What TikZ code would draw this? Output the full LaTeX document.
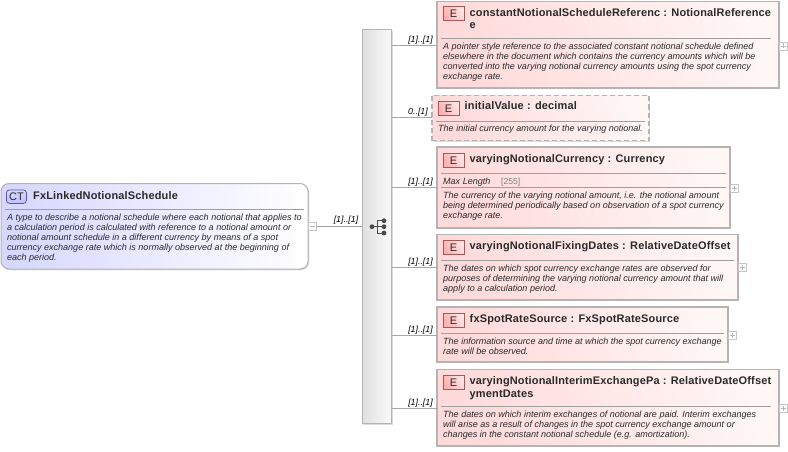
\documentclass[tikz,border=0pt]{standalone}
\usepackage{fontspec}
\setmainfont{Liberation Sans}
\newfontfamily\titlefont[LetterSpace=1.4]{Liberation Sans}
\usetikzlibrary{shadows,calc}
\definecolor{edge}{HTML}{B4B4B4}
\definecolor{ink}{HTML}{2A2A2A}
\definecolor{rosy}{HTML}{FFDADA}
\definecolor{pale}{HTML}{FFF6F6}
\definecolor{lav}{HTML}{D6D6FF}
\tikzset{
  x=1pt,y=-1pt,
  shadowed/.style={drop shadow={shadow xshift=1.3pt,shadow yshift=-1.3pt,opacity=.2,fill=black!70}},
  ebox/.style={draw=edge,line width=1.1pt,left color=rosy,right color=pale,shading angle=105,shadowed,anchor=north west,inner sep=0,outer sep=0},
  ctbox/.style={draw=edge,line width=1pt,rounded corners=8pt,left color=lav,right color=white,shadowed,anchor=north west,inner sep=0,outer sep=0},
  badge/.style={draw=red!30!gray,line width=.7pt,left color=red!32!white,right color=white!90!red,shading angle=120,minimum width=21.5pt,minimum height=14pt,inner sep=0,anchor=north west,font=\fontsize{11}{11}\selectfont,text=ink},
  ctbadge/.style={draw=blue!30!gray,line width=.8pt,rounded corners=3pt,top color=white!85!blue,bottom color=blue!25!white,minimum width=20pt,minimum height=13.5pt,inner sep=0,anchor=north west,font=\fontsize{11}{11}\selectfont,text=ink},
  ttl/.style={anchor=base west,inner sep=0,text=ink,font=\titlefont\bfseries\fontsize{11}{14}\selectfont},
  desc/.style={anchor=north west,inner sep=0,text=ink,align=left,font=\itshape\fontsize{9.03}{10.05}\selectfont},
  card/.style={anchor=mid,inner sep=0,text=black,font=\itshape\fontsize{8.8}{10}\selectfont},
  sep/.style={draw=gray!75,line width=.7pt},
  wire/.style={draw=gray!70,line width=.7pt},
  toggle/.style={draw=gray!45,fill=white,line width=.6pt,minimum width=8pt,minimum height=8pt,inner sep=0,anchor=west,outer sep=0},
  glyph/.style={draw=gray!55,line width=.6pt},
  dot/.style={fill=ink!85},
}
% #1 extra style, #2 name, #3 x, #4 y, #5 w, #6 h
\newcommand{\ebx}[6][]{\node[ebox,minimum width=#5pt,minimum height=#6pt,#1] (#2) at (#3,#4) {};}
\newcommand{\sepline}[3]{\draw[sep] (#1,#3) -- (#2,#3);}
\newcommand{\tgl}[3]{\node[toggle] (#1) at (#2,#3) {};
  \draw[glyph] ($(#1.center)+(-2.5,0)$) -- ($(#1.center)+(2.5,0)$);
  \draw[glyph] ($(#1.center)+(0,-2.5)$) -- ($(#1.center)+(0,2.5)$);}
\begin{document}
\begin{tikzpicture}
\useasboundingbox (0,0) rectangle (788,452);
% sequence bar
\node[anchor=north west,draw=edge,line width=1pt,left color=gray!25,right color=white!96!gray,shadowed,minimum width=29.5pt,minimum height=394pt,inner sep=0,outer sep=0] (seq) at (362,29.5) {};
% CT
\node[ctbox,minimum width=307pt,minimum height=85.5pt] (ct) at (1,183.5) {};
\node[ctbadge] (ctb) at (6,189.5) {CT};
\node[ttl] (ctt) at (33,199) {FxLinkedNotionalSchedule};
\sepline{5}{304}{209.5}
\node[desc] (ctd) at (6.8,213.3) {A type to describe a notional schedule where each notional that applies to\\a calculation period is calculated with reference to a notional amount or\\notional amount schedule in a different currency by means of a spot\\currency exchange rate which is normally observed at the beginning of\\each period.};
% elements
\ebx{e1}{437}{1.5}{342}{86.5}
\node[badge] (b1) at (442.5,6.5) {E};
\node[ttl] (t1) at (469.5,16.5) {constantNotionalScheduleReferenc : NotionalReference};
\node[ttl] (t1b) at (469.5,29) {e};
\sepline{441}{771}{38.5}
\node[desc] (d1) at (443,42.3) {A pointer style reference to the associated constant notional schedule defined\\elsewhere in the document which contains the currency amounts which will be\\converted into the varying notional currency amounts using the spot currency\\exchange rate.};

\ebx[dashed,dash pattern=on 5pt off 3pt]{e2}{432}{95.5}{217}{45}
\node[badge] (b2) at (437.5,101) {E};
\node[ttl] (t2) at (464.5,110) {initialValue : decimal};
\sepline{436}{645}{121.5}
\node[desc] (d2) at (438,125) {The initial currency amount for the varying notional.};

\ebx{e3}{437}{147}{293}{81}
\node[badge] (b3) at (442.5,153) {E};
\node[ttl] (t3) at (469.5,162) {varyingNotionalCurrency : Currency};
\sepline{441}{726}{173.5}
\node[desc,anchor=base west] (k3) at (443,184) {Max Length};
\node[desc,anchor=base west,text=gray,font=\fontsize{8.6}{10}\selectfont] (v3) at (501,184) {[255]};
\sepline{441}{726}{187.5}
\node[desc] (d3) at (443,191.3) {The currency of the varying notional amount, i.e. the notional amount\\being determined periodically based on observation of a spot currency\\exchange rate.};

\ebx{e4}{437}{234.5}{301}{65.5}
\node[badge] (b4) at (442.5,240) {E};
\node[ttl] (t4) at (469.5,249.5) {varyingNotionalFixingDates : RelativeDateOffset};
\sepline{441}{734}{260.5}
\node[desc] (d4) at (443,264.3) {The dates on which spot currency exchange rates are observed for\\purposes of determining the varying notional currency amount that will\\apply to a calculation period.};

\ebx{e5}{437}{307}{291}{55}
\node[badge] (b5) at (442.5,313) {E};
\node[ttl] (t5) at (469.5,322) {fxSpotRateSource : FxSpotRateSource};
\sepline{441}{724}{333.5}
\node[desc] (d5) at (443,337.3) {The information source and time at which the spot currency exchange\\rate will be observed.};

\ebx{e6}{437}{369.5}{342}{76.5}
\node[badge] (b6) at (442.5,375) {E};
\node[ttl] (t6) at (469.5,384.5) {varyingNotionalInterimExchangePa : RelativeDateOffset};
\node[ttl] (t6b) at (469.5,397) {ymentDates};
\sepline{441}{771}{406.5}
\node[desc] (d6) at (443,410.3) {The dates on which interim exchanges of notional are paid. Interim exchanges\\will arise as a result of changes in the spot currency exchange amount or\\changes in the constant notional schedule (e.g. amortization).};
% toggles
\node[toggle] (tc) at (308.5,226.5) {};
\draw[glyph] ($(tc.center)+(-2.5,0)$) -- ($(tc.center)+(2.5,0)$);
\tgl{p1}{779.5}{46}
\tgl{p3}{730.5}{188}
\tgl{p4}{738.5}{267.5}
\tgl{p5}{728.5}{335.5}
\tgl{p6}{779.5}{408}
% connectors
\draw[wire] (tc.east) -- (tc.east -| seq.west);
\foreach \n/\y in {e1/45.5,e2/117.5,e3/187.5,e4/267.5,e5/335.5,e6/408}{
  \coordinate (j\n) at (392,\y);
  \draw[wire] (j\n) -- (j\n -| \n.west);
}
\node[card] (c0) at (346,220) {[1]..[1]};
\node[card] (c1) at (420.5,39.5) {[1]..[1]};
\node[card] (c2) at (418,111.5) {0..[1]};
\node[card] (c3) at (420.5,181.5) {[1]..[1]};
\node[card] (c4) at (420.5,261.5) {[1]..[1]};
\node[card] (c5) at (420.5,329.5) {[1]..[1]};
\node[card] (c6) at (420.5,402.5) {[1]..[1]};
% sequence icon
\fill[dot] (372,226.7) circle (2.4pt);
\draw[ink!85,line width=1pt] (372,226.7) -- (384,226.7) (377.3,220.7) -- (377.3,233) (377.3,220.7) -- (384,220.7) (377.3,233) -- (384,233);
\foreach \yy in {220.7,226.7,233}{\fill[dot] (384,\yy) circle (2.4pt);}
\end{tikzpicture}
\end{document}
